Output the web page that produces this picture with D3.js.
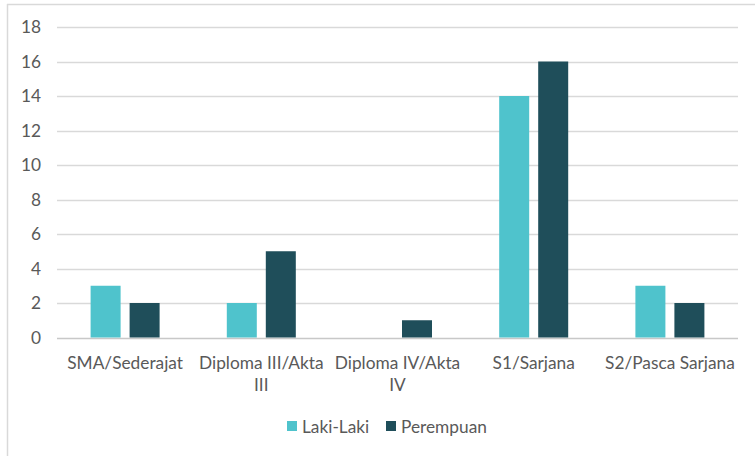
<!DOCTYPE html>
<html><head><meta charset="utf-8">
<script src="https://cdn.jsdelivr.net/npm/d3@7"></script>
<style>
html,body{margin:0;padding:0;background:#fff;}
text{font-family:Lato,"Open Sans",sans-serif;fill:#595959;}
</style></head>
<body><svg id="c" width="755" height="456"></svg>
<script>
const categories = ["SMA/Sederajat","Diploma III/Akta III","Diploma IV/Akta IV","S1/Sarjana","S2/Pasca Sarjana"];
const seriesNames = ["Laki-Laki","Perempuan"];
const lakiLaki = [3,2,0,14,3];
const perempuan = [2,5,1,16,2];
const yTicks = [0,2,4,6,8,10,12,14,16,18];
const colors = ["#4FC3CC","#1F4E5A"];

const svg = d3.select("#c");
const FS = 17.3;
// chart frame (top and left edges visible)
svg.append("line").attr("x1",7).attr("x2",755).attr("y1",4.5).attr("y2",4.5).attr("stroke","#d9d9d9").attr("stroke-width",1.5);
svg.append("line").attr("x1",7.5).attr("x2",7.5).attr("y1",4).attr("y2",456).attr("stroke","#d9d9d9").attr("stroke-width",1.5);

const m = {l:57, r:738, t:27, b:337.5};
const x = d3.scaleBand().domain(categories).range([m.l,m.r]);
const y = d3.scaleLinear().domain([0,18]).range([m.b,m.t]);
const series = [lakiLaki, perempuan];

// gridlines
svg.append("g").selectAll("line").data(yTicks).join("line")
  .attr("x1",m.l).attr("x2",m.r)
  .attr("y1",d=>Math.round(y(d))+0.5).attr("y2",d=>Math.round(y(d))+0.5)
  .attr("stroke",d=>d===0?"#c8c8c8":"#d9d9d9").attr("stroke-width",1.3);

// y labels
svg.append("g").selectAll("text").data(yTicks).join("text")
  .attr("x",41).attr("y",d=>y(d)).attr("dy","0.35em").attr("text-anchor","end")
  .attr("font-size",FS).text(d=>d);

// bars
const barW = 30, gap = 9;
series.forEach((vals,si)=>{
  svg.append("g").selectAll("rect").data(categories).join("rect")
    .attr("x",(c)=>x(c)+x.bandwidth()/2 - barW - gap/2 + si*(barW+gap))
    .attr("width",barW)
    .attr("y",(c,i)=>y(vals[i]))
    .attr("height",(c,i)=>y(0)-y(vals[i]))
    .attr("fill",colors[si]);
});

// x labels with wrapping
const xl = svg.append("g");
categories.forEach(c=>{
  const t = xl.append("text").attr("text-anchor","middle").attr("font-size",FS)
    .attr("x",x(c)+x.bandwidth()/2).attr("y",369);
  const words = c.split(" ");
  let line = [], lines = [];
  const tmp = t.append("tspan");
  words.forEach(w=>{
    const trial = line.concat([w]).join(" ");
    tmp.text(trial);
    if (tmp.node().getComputedTextLength() > x.bandwidth() && line.length){
      lines.push(line.join(" ")); line=[w];
    } else line.push(w);
  });
  lines.push(line.join(" "));
  tmp.remove();
  lines.forEach((l,i)=>{
    t.append("tspan").attr("x",x(c)+x.bandwidth()/2).attr("dy",i?22:0).text(l);
  });
});

// legend
const lg = svg.append("g");
const legX = [287, 386];
seriesNames.forEach((n,i)=>{
  lg.append("rect").attr("x",legX[i]).attr("y",421).attr("width",10).attr("height",10).attr("fill",colors[i]);
  lg.append("text").attr("x",legX[i]+15).attr("y",432.5).attr("font-size",FS).text(n);
});
</script></body></html>
